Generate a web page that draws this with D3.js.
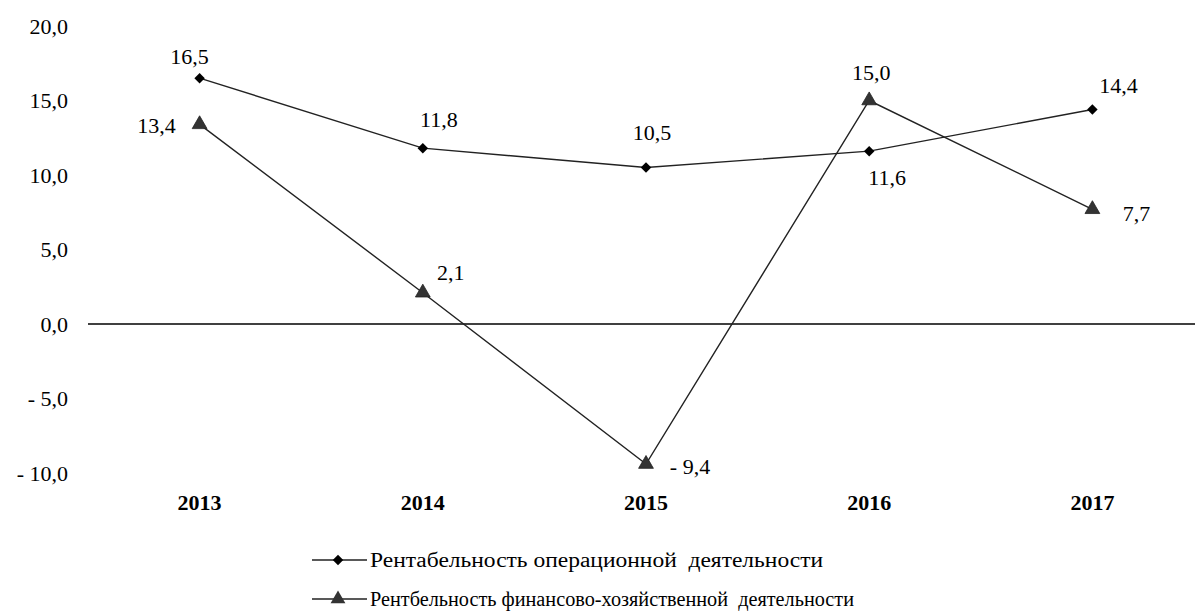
<!DOCTYPE html>
<html><head><meta charset="utf-8">
<script src="https://cdn.jsdelivr.net/npm/d3@7"></script>
<style>
body{margin:0;background:#fff;}
svg text{font-family:"Liberation Serif","DejaVu Serif",serif;}
</style></head>
<body><svg id="c" width="1195" height="611"></svg>
<script>
const years = ["2013","2014","2015","2016","2017"];
const operational = [16.5, 11.8, 10.5, 11.6, 14.4];
const financial = [13.4, 2.1, -9.4, 15.0, 7.7];
const yTicks = [20, 15, 10, 5, 0, -5, -10];
const seriesNames = ["Рентабельность операционной  деятельности", "Рентбельность финансово-хозяйственной  деятельности"];

// label offsets (dx, dy) relative to point
const opOffsets = [[-10,-22],[16,-29],[6,-35],[18,26],[26,-24]];
const finOffsets = [[-43,1],[28,-20],[44,2],[2,-28],[44,4]];

const svg = d3.select("#c");
const x = d3.scaleBand().domain(years).range([88, 1204]);
const y = d3.scaleLinear().domain([-10, 20]).range([473, 26]);
const cx = d => x(d) + x.bandwidth()/2;
const fmt = v => (v < 0 ? "- " + d3.format(".1f")(-v) : d3.format(".1f")(v)).replace(".", ",");

// y tick labels
svg.append("g").selectAll("text").data(yTicks).join("text")
  .attr("x", 68).attr("y", d => y(d)).attr("dy", "0.35em")
  .attr("text-anchor", "end").style("font-size", "22px").text(d => fmt(d));

// zero line
svg.append("line").attr("x1", 88).attr("x2", 1195).attr("y1", y(0)).attr("y2", y(0))
  .attr("stroke", "#000").attr("stroke-width", 1.5);

// x labels
svg.append("g").selectAll("text").data(years).join("text")
  .attr("x", d => cx(d)).attr("y", 502).attr("dy", "0.35em")
  .attr("text-anchor", "middle").style("font-size", "22px").style("font-weight", "bold").text(d => d);

const line = d3.line().x((d,i) => cx(years[i])).y(d => y(d));
svg.append("path").datum(operational).attr("d", line).attr("fill", "none").attr("stroke", "#222").attr("stroke-width", 1.4);
svg.append("path").datum(financial).attr("d", line).attr("fill", "none").attr("stroke", "#222").attr("stroke-width", 1.4);

const diamond = d3.symbol().type(d3.symbolDiamond2).size(70);
const tri = d3.symbol().type(d3.symbolTriangle).size(95);

svg.append("g").selectAll("path").data(operational).join("path")
  .attr("d", diamond).attr("transform", (d,i) => `translate(${cx(years[i])},${y(d)})`).attr("fill", "#000");
svg.append("g").selectAll("path").data(financial).join("path")
  .attr("d", tri).attr("transform", (d,i) => `translate(${cx(years[i])},${y(d)})`).attr("fill", "#333").attr("stroke","#222").attr("stroke-width",0.8);

svg.append("g").selectAll("text").data(operational).join("text")
  .attr("x", (d,i) => cx(years[i]) + opOffsets[i][0]).attr("y", (d,i) => y(d) + opOffsets[i][1])
  .attr("dy","0.35em").attr("text-anchor","middle").style("font-size","22px").text(d => fmt(d));
svg.append("g").selectAll("text").data(financial).join("text")
  .attr("x", (d,i) => cx(years[i]) + finOffsets[i][0]).attr("y", (d,i) => y(d) + finOffsets[i][1])
  .attr("dy","0.35em").attr("text-anchor","middle").style("font-size","22px").text(d => fmt(d));

// legend
const leg = svg.append("g");
const legY = [560, 599];
const legW = [453, 484];
const syms = [diamond, tri];
seriesNames.forEach((n, i) => {
  leg.append("line").attr("x1", 312).attr("x2", 367).attr("y1", legY[i]).attr("y2", legY[i]).attr("stroke", "#222").attr("stroke-width", 1.6);
  leg.append("path").attr("d", syms[i]).attr("transform", `translate(338,${legY[i]})`).attr("fill", i ? "#333" : "#000");
  leg.append("text").attr("x", 370).attr("y", legY[i]).attr("dy", "0.35em").style("font-size", "20px")
    .attr("textLength", legW[i]).attr("lengthAdjust", "spacingAndGlyphs").style("white-space","pre").text(n);
});
</script></body></html>
